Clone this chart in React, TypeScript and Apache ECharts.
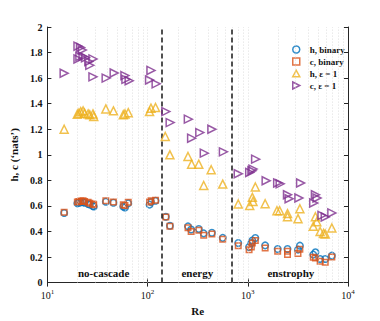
import React, { useEffect, useRef } from "react";
import * as echarts from "echarts";

// [Re, value] pairs
const hBinary: number[][] = [
  [14.7, 0.545], [19.9, 0.62], [20.6, 0.625], [21.5, 0.628], [22.7, 0.63], [23.5, 0.625],
  [25.5, 0.615], [26.5, 0.61], [28.5, 0.6], [29.0, 0.595], [38.3, 0.633], [45.6, 0.625],
  [57.2, 0.595], [59.4, 0.588], [64.1, 0.62], [104.6, 0.61], [108, 0.63], [120, 0.64],
  [152, 0.515], [167, 0.445], [253, 0.44], [272, 0.415], [324, 0.42], [363, 0.385],
  [438, 0.39], [562, 0.35],
  [803, 0.31], [1030, 0.279], [1085, 0.31], [1110, 0.33], [1189, 0.349], [1490, 0.291],
  [1987, 0.263], [2490, 0.263], [3170, 0.258], [3310, 0.289], [4500, 0.219], [4730, 0.237],
  [5270, 0.185], [5930, 0.185], [6900, 0.211],
];
const cBinary: number[][] = [
  [14.7, 0.55], [19.9, 0.63], [20.6, 0.635], [21.5, 0.638], [22.7, 0.64], [23.5, 0.635],
  [25.5, 0.628], [26.5, 0.62], [28.5, 0.615], [29.0, 0.61], [38.3, 0.64], [45.6, 0.63],
  [57.2, 0.61], [59.4, 0.603], [64.1, 0.628], [104.6, 0.63], [108, 0.64], [120, 0.645],
  [152, 0.513], [167, 0.44], [253, 0.43], [272, 0.4], [324, 0.41], [363, 0.37],
  [438, 0.38], [562, 0.34],
  [803, 0.289], [1030, 0.258], [1085, 0.279], [1110, 0.31], [1189, 0.33], [1490, 0.271],
  [1987, 0.245], [2490, 0.245], [2490, 0.219], [3170, 0.227], [3310, 0.26], [4500, 0.198],
  [4730, 0.193], [5270, 0.167], [5930, 0.159], [6900, 0.201],
];
const hEps: number[][] = [
  [14.7, 1.2], [19.9, 1.318], [20.6, 1.326], [21.5, 1.338], [22.7, 1.344], [23.5, 1.326],
  [25.5, 1.32], [26.5, 1.313], [28.5, 1.32], [29.0, 1.3], [38.3, 1.359], [45.6, 1.344],
  [57.2, 1.313], [59.4, 1.32], [64.1, 1.33], [104.6, 1.338], [108, 1.365], [120, 1.37],
  [150, 1.143], [167, 1.0], [253, 0.987], [275, 0.927], [324, 0.927], [431, 0.883],
  [363, 0.76], [562, 0.771],
  [1189, 0.748], [803, 0.615], [1110, 0.667], [1127, 0.635], [1045, 0.604], [1490, 0.617],
  [1955, 0.5625], [2080, 0.5625], [2490, 0.54], [2490, 0.515], [3310, 0.578], [3170, 0.5],
  [4730, 0.515], [4500, 0.44], [4880, 0.476], [5270, 0.4], [5700, 0.385], [5930, 0.38],
  [6900, 0.427],
];
const cEps: number[][] = [
  [14.7, 1.638], [20.2, 1.85], [21.4, 1.84], [22.3, 1.82], [20.2, 1.75], [21.1, 1.77],
  [22.7, 1.77], [24.0, 1.76], [25.9, 1.73], [26.5, 1.7], [28.5, 1.75], [28.5, 1.61],
  [38.6, 1.6], [46.4, 1.64], [59.4, 1.62], [60.8, 1.59], [65.5, 1.58], [108, 1.66],
  [104.6, 1.585], [121.7, 1.555],
  [152, 1.338], [168, 1.252], [255, 1.279], [332, 1.174], [275, 1.13], [438, 1.2],
  [368, 1.013], [571, 1.023],
  [1197, 0.966], [1127, 0.888], [1100, 0.875], [1045, 0.862], [803, 0.852], [1525, 0.797],
  [1987, 0.779], [2105, 0.773], [3365, 0.779], [2490, 0.6875], [2585, 0.656], [3236, 0.662],
  [4730, 0.6875], [4550, 0.623], [4910, 0.662], [5500, 0.526], [5930, 0.513], [6900, 0.545],
];

const regimeBounds = [137, 690];
const regimeLabels = ["no-cascade", "energy", "enstrophy"];
const regimeLabelRe = [36.4, 313, 2690];
const regimeLabelY = 0.078;
const gridLinesRe: number[] = [];
[10, 100, 1000].forEach((d) => {
  for (let k = 1; k <= 9; k++) {
    const v = d * k;
    if (v > 10 && v < 10000) gridLinesRe.push(v);
  }
});

const seriesNames = ["h, binary", "c, binary", "h, \u03b5 = 1", "c, \u03b5 = 1"];
const colors = ["#0072BD", "#D95319", "#EDB120", "#7E2F8E"];
const rightTri = "path://M0,0L10,5L0,10Z";
const upTri = "path://M5,0L10,9L0,9Z";

const FONT = "Liberation Serif";
const AX = "#262626";

export default function App() {
  const ref = useRef<HTMLDivElement>(null);
  useEffect(() => {
    const chart = echarts.init(ref.current!, undefined, { renderer: "svg" });
    const hollow = (c: string) => ({ color: "rgba(0,0,0,0)", borderColor: c, borderWidth: 1.5 });
    const symbols = ["circle", "rect", upTri, rightTri];
    const sizes = [6.5, 5.5, 8, 8];
    const datas = [hBinary, cBinary, hEps, cEps];
    const series: any[] = datas.map((d, i) => ({
      name: seriesNames[i],
      type: "scatter",
      data: d,
      symbol: symbols[i],
      symbolSize: sizes[i],
      itemStyle: hollow(colors[i]),
      z: 3 + i,
    }));
    series.push({
      name: "annot",
      type: "scatter",
      data: [],
      silent: true,
      z: 1,
      markLine: {
        silent: true,
        symbol: "none",
        animation: false,
        label: { show: false },
        data: gridLinesRe.map((v) => ({
          xAxis: v,
          lineStyle: { color: "#d6d6d6", type: [1, 2], width: 0.8 },
        })),
      },
    });
    series.push({
      name: "bounds",
      type: "scatter",
      data: [],
      silent: true,
      z: 2,
      markLine: {
        silent: true,
        symbol: "none",
        animation: false,
        label: { show: false },
        data: regimeBounds.map((v) => ({
          xAxis: v,
          lineStyle: { color: AX, type: [5, 3], width: 1.6 },
        })),
      },
      markPoint: {
        silent: true,
        animation: false,
        symbol: "circle",
        symbolSize: 0,
        data: regimeLabels.map((t, i) => ({
          coord: [regimeLabelRe[i], regimeLabelY],
          value: t,
          label: {
            show: true,
            formatter: t,
            position: "inside",
            color: "#111",
            fontFamily: FONT,
            fontWeight: "bold",
            fontSize: 11,
          },
        })),
      },
    });

    const xAxisCommon = {
      type: "log",
      logBase: 10,
      min: 10,
      max: 10000,
      axisLine: { show: true, lineStyle: { color: AX, width: 1 } },
      axisTick: { show: true, inside: true, length: 4, lineStyle: { color: AX } },
      splitLine: { show: false },
    };
    const yAxisCommon = {
      type: "value",
      min: 0,
      max: 2,
      interval: 0.2,
      axisLine: { show: true, lineStyle: { color: AX, width: 1 } },
      axisTick: { show: true, inside: true, length: 4, lineStyle: { color: AX } },
      splitLine: { show: false },
    };

    chart.setOption({
      animation: false,
      backgroundColor: "#fff",
      grid: { left: 43, right: 32, top: 27, bottom: 38, containLabel: false },
      legend: {
        orient: "vertical",
        left: 287,
        top: 40,
        itemWidth: 7,
        itemHeight: 7,
        itemGap: 3,
        selectedMode: false,
        data: seriesNames.map((n, i) => ({
          name: n,
          icon: ["circle", "rect", upTri, rightTri][i],
          itemStyle: hollow(colors[i]),
        })),
        textStyle: {
          fontFamily: FONT,
          fontWeight: "bold",
          fontSize: 9,
          color: "#111",
          padding: [0, 0, 0, 5],
        },
      },
      xAxis: [
        {
          ...xAxisCommon,
          position: "bottom",
          name: "Re",
          nameLocation: "middle",
          nameGap: 22,
          nameTextStyle: { fontFamily: FONT, fontWeight: "bold", fontSize: 11, color: "#111" },
          axisLabel: {
            margin: 6,
            fontFamily: FONT,
            fontSize: 10,
            color: "#111",
            formatter: (v: number) => "10{sup|" + Math.round(Math.log10(v)) + "}",
            rich: {
              sup: { fontSize: 7, fontFamily: FONT, color: "#111", padding: [0, 0, 6, 0] },
            },
          },
        },
        { ...xAxisCommon, position: "top", axisLabel: { show: false } },
      ],
      yAxis: [
        {
          ...yAxisCommon,
          position: "left",
          name: "h, c (\u2018nats\u2019)",
          nameLocation: "middle",
          nameGap: 22,
          nameTextStyle: { fontFamily: FONT, fontWeight: "bold", fontSize: 11, color: "#111" },
          axisLabel: { margin: 5, fontFamily: FONT, fontWeight: "bold", fontSize: 10, color: "#111" },
        },
        { ...yAxisCommon, position: "right", axisLabel: { show: false } },
      ],
      series,
    });
    return () => chart.dispose();
  }, []);
  return (
    <div
      ref={ref}
      style={{ position: "fixed", left: 0, top: 0, width: 380, height: 321, background: "#fff" }}
    />
  );
}
